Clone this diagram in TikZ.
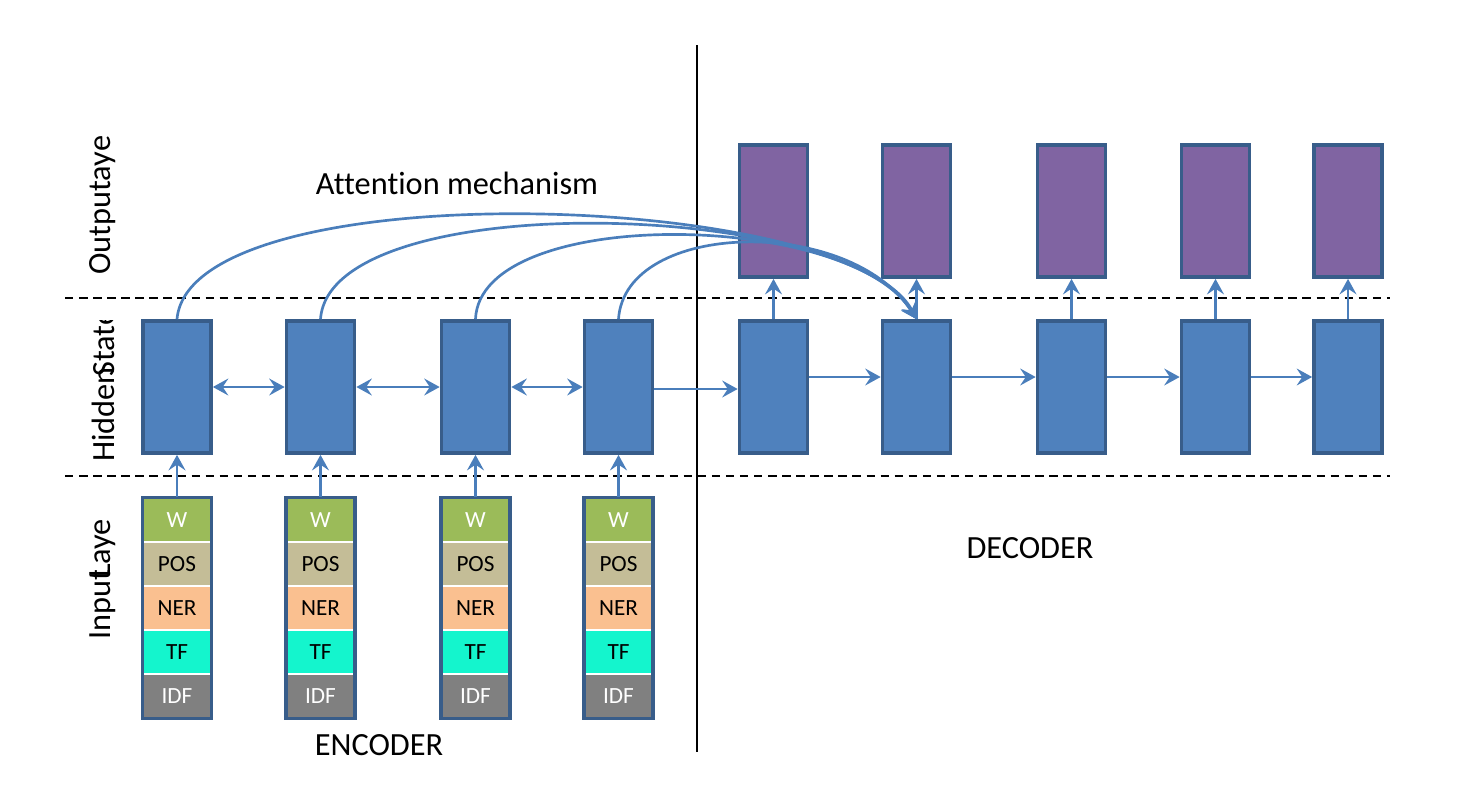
\documentclass[tikz,border=0pt]{standalone}
\usepackage{fontspec}
\setmainfont{Carlito}[Ligatures={NoCommon}]
\usetikzlibrary{arrows.meta}
\definecolor{boxfill}{RGB}{79,129,189}
\definecolor{boxline}{RGB}{56,93,138}
\definecolor{outfill}{RGB}{128,100,162}
\definecolor{arr}{RGB}{74,126,187}
\definecolor{wcol}{RGB}{155,187,89}
\definecolor{poscol}{RGB}{196,189,151}
\definecolor{nercol}{RGB}{250,192,144}
\definecolor{tfcol}{RGB}{20,245,205}
\definecolor{idfcol}{RGB}{128,128,128}
\begin{document}
\begin{tikzpicture}[x=0.025cm,y=-0.025cm,
  hbox/.style={draw=boxline, line width=2.6pt, fill=boxfill, minimum width=1.7cm, minimum height=3.3cm, inner sep=0pt},
  obox/.style={hbox, fill=outfill},
  cell/.style={draw=white, line width=0.8pt, minimum width=1.7cm, minimum height=1.1cm, inner sep=0pt, font=\fontsize{16.5}{18}\selectfont},
  frame/.style={draw=boxline, line width=2.6pt},
  tip/.tip={Stealth[length=11pt,width=12pt,inset=4pt]},
  conn/.style={draw=arr, line width=1.9pt, -tip},
  biconn/.style={draw=arr, line width=1.9pt, tip-tip},
  sep/.style={draw=black, line width=1.2pt, dash pattern=on 6pt off 4pt},
  big/.style={font=\fontsize{23}{26}\selectfont},
  side/.style={big, rotate=90, anchor=west, inner sep=0pt}
]
\useasboundingbox (0,0) rectangle (1484,796);

% separators
\coordinate (s1a) at (65,298); \coordinate (s1b) at (1390,298);
\coordinate (s2a) at (65,476); \coordinate (s2b) at (1390,476);
\coordinate (va) at (697,45); \coordinate (vb) at (697,752);
\draw[sep] (s1a) -- (s1b);
\draw[sep] (s2a) -- (s2b);
\draw[black, line width=2pt] (va) -- (vb);

% side labels
\node[side] (lout) at (103,275) {Outputaye};
\begin{scope}
\clip (60,320) rectangle (150,470);
\node[side] (lhid) at (103,462) {Hidden\kern-0.3em State};
\end{scope}
\node[side] (linp) at (103,640) {Input\kern-0.25em Laye};

% encoder hidden
\node[hbox] (e1) at (177,387) {};
\node[hbox] (e2) at (320.5,387) {};
\node[hbox] (e3) at (475.5,387) {};
\node[hbox] (e4) at (618.5,387) {};
% decoder hidden
\node[hbox] (d1) at (773.5,387) {};
\node[hbox] (d2) at (916.5,387) {};
\node[hbox] (d3) at (1071.5,387) {};
\node[hbox] (d4) at (1215.5,387) {};
\node[hbox] (d5) at (1348,387) {};
% outputs
\node[obox] (o1) at (773.5,211) {};
\node[obox] (o2) at (916.5,211) {};
\node[obox] (o3) at (1071.5,211) {};
\node[obox] (o4) at (1215.5,211) {};
\node[obox] (o5) at (1348,211) {};

% input stacks
\foreach \i/\x in {1/177,2/320.5,3/475.5,4/618.5}{
  \node[cell, fill=wcol, text=white] (w\i) at (\x,520) {W};
  \node[cell, fill=poscol] (p\i) at (\x,564) {POS};
  \node[cell, fill=nercol] (n\i) at (\x,608) {NER};
  \node[cell, fill=tfcol] (t\i) at (\x,652) {TF};
  \node[cell, fill=idfcol, text=white] (f\i) at (\x,696) {IDF};
  \draw[frame] (w\i.north west) rectangle (f\i.south east);
  \draw[conn] (w\i.north) -- (e\i.south);
}

% encoder bidirectional
\draw[biconn] (e1.east) -- (e2.west);
\draw[biconn] (e2.east) -- (e3.west);
\draw[biconn] (e3.east) -- (e4.west);
\draw[conn] ([yshift=-0.05cm]e4.east) -- ([yshift=-0.05cm]d1.west);
% decoder chain
\draw[conn] ([yshift=0.25cm]d1.east) -- ([yshift=0.25cm]d2.west);
\draw[conn] ([yshift=0.25cm]d2.east) -- ([yshift=0.25cm]d3.west);
\draw[conn] ([yshift=0.25cm]d3.east) -- ([yshift=0.25cm]d4.west);
\draw[conn] ([yshift=0.25cm]d4.east) -- ([yshift=0.25cm]d5.west);
% decoder up
\foreach \i in {1,...,5}{ \draw[conn] (d\i.north) -- (o\i.south); }

% attention
\draw[conn] (e1.north) .. controls (190,170) and (850,190) .. (d2.north);
\draw[conn] (e2.north) .. controls (330,185) and (850,200) .. (d2.north);
\draw[conn] (e3.north) .. controls (480,205) and (850,210) .. (d2.north);
\draw[conn] (e4.north) .. controls (625,220) and (850,215) .. (d2.north);

% texts
\node[big] (att) at (457,183) {Attention mechanism};
\node[big] (enc) at (379,745) {ENCODER};
\node[big] (dec) at (1030,548) {DECODER};
\end{tikzpicture}
\end{document}
